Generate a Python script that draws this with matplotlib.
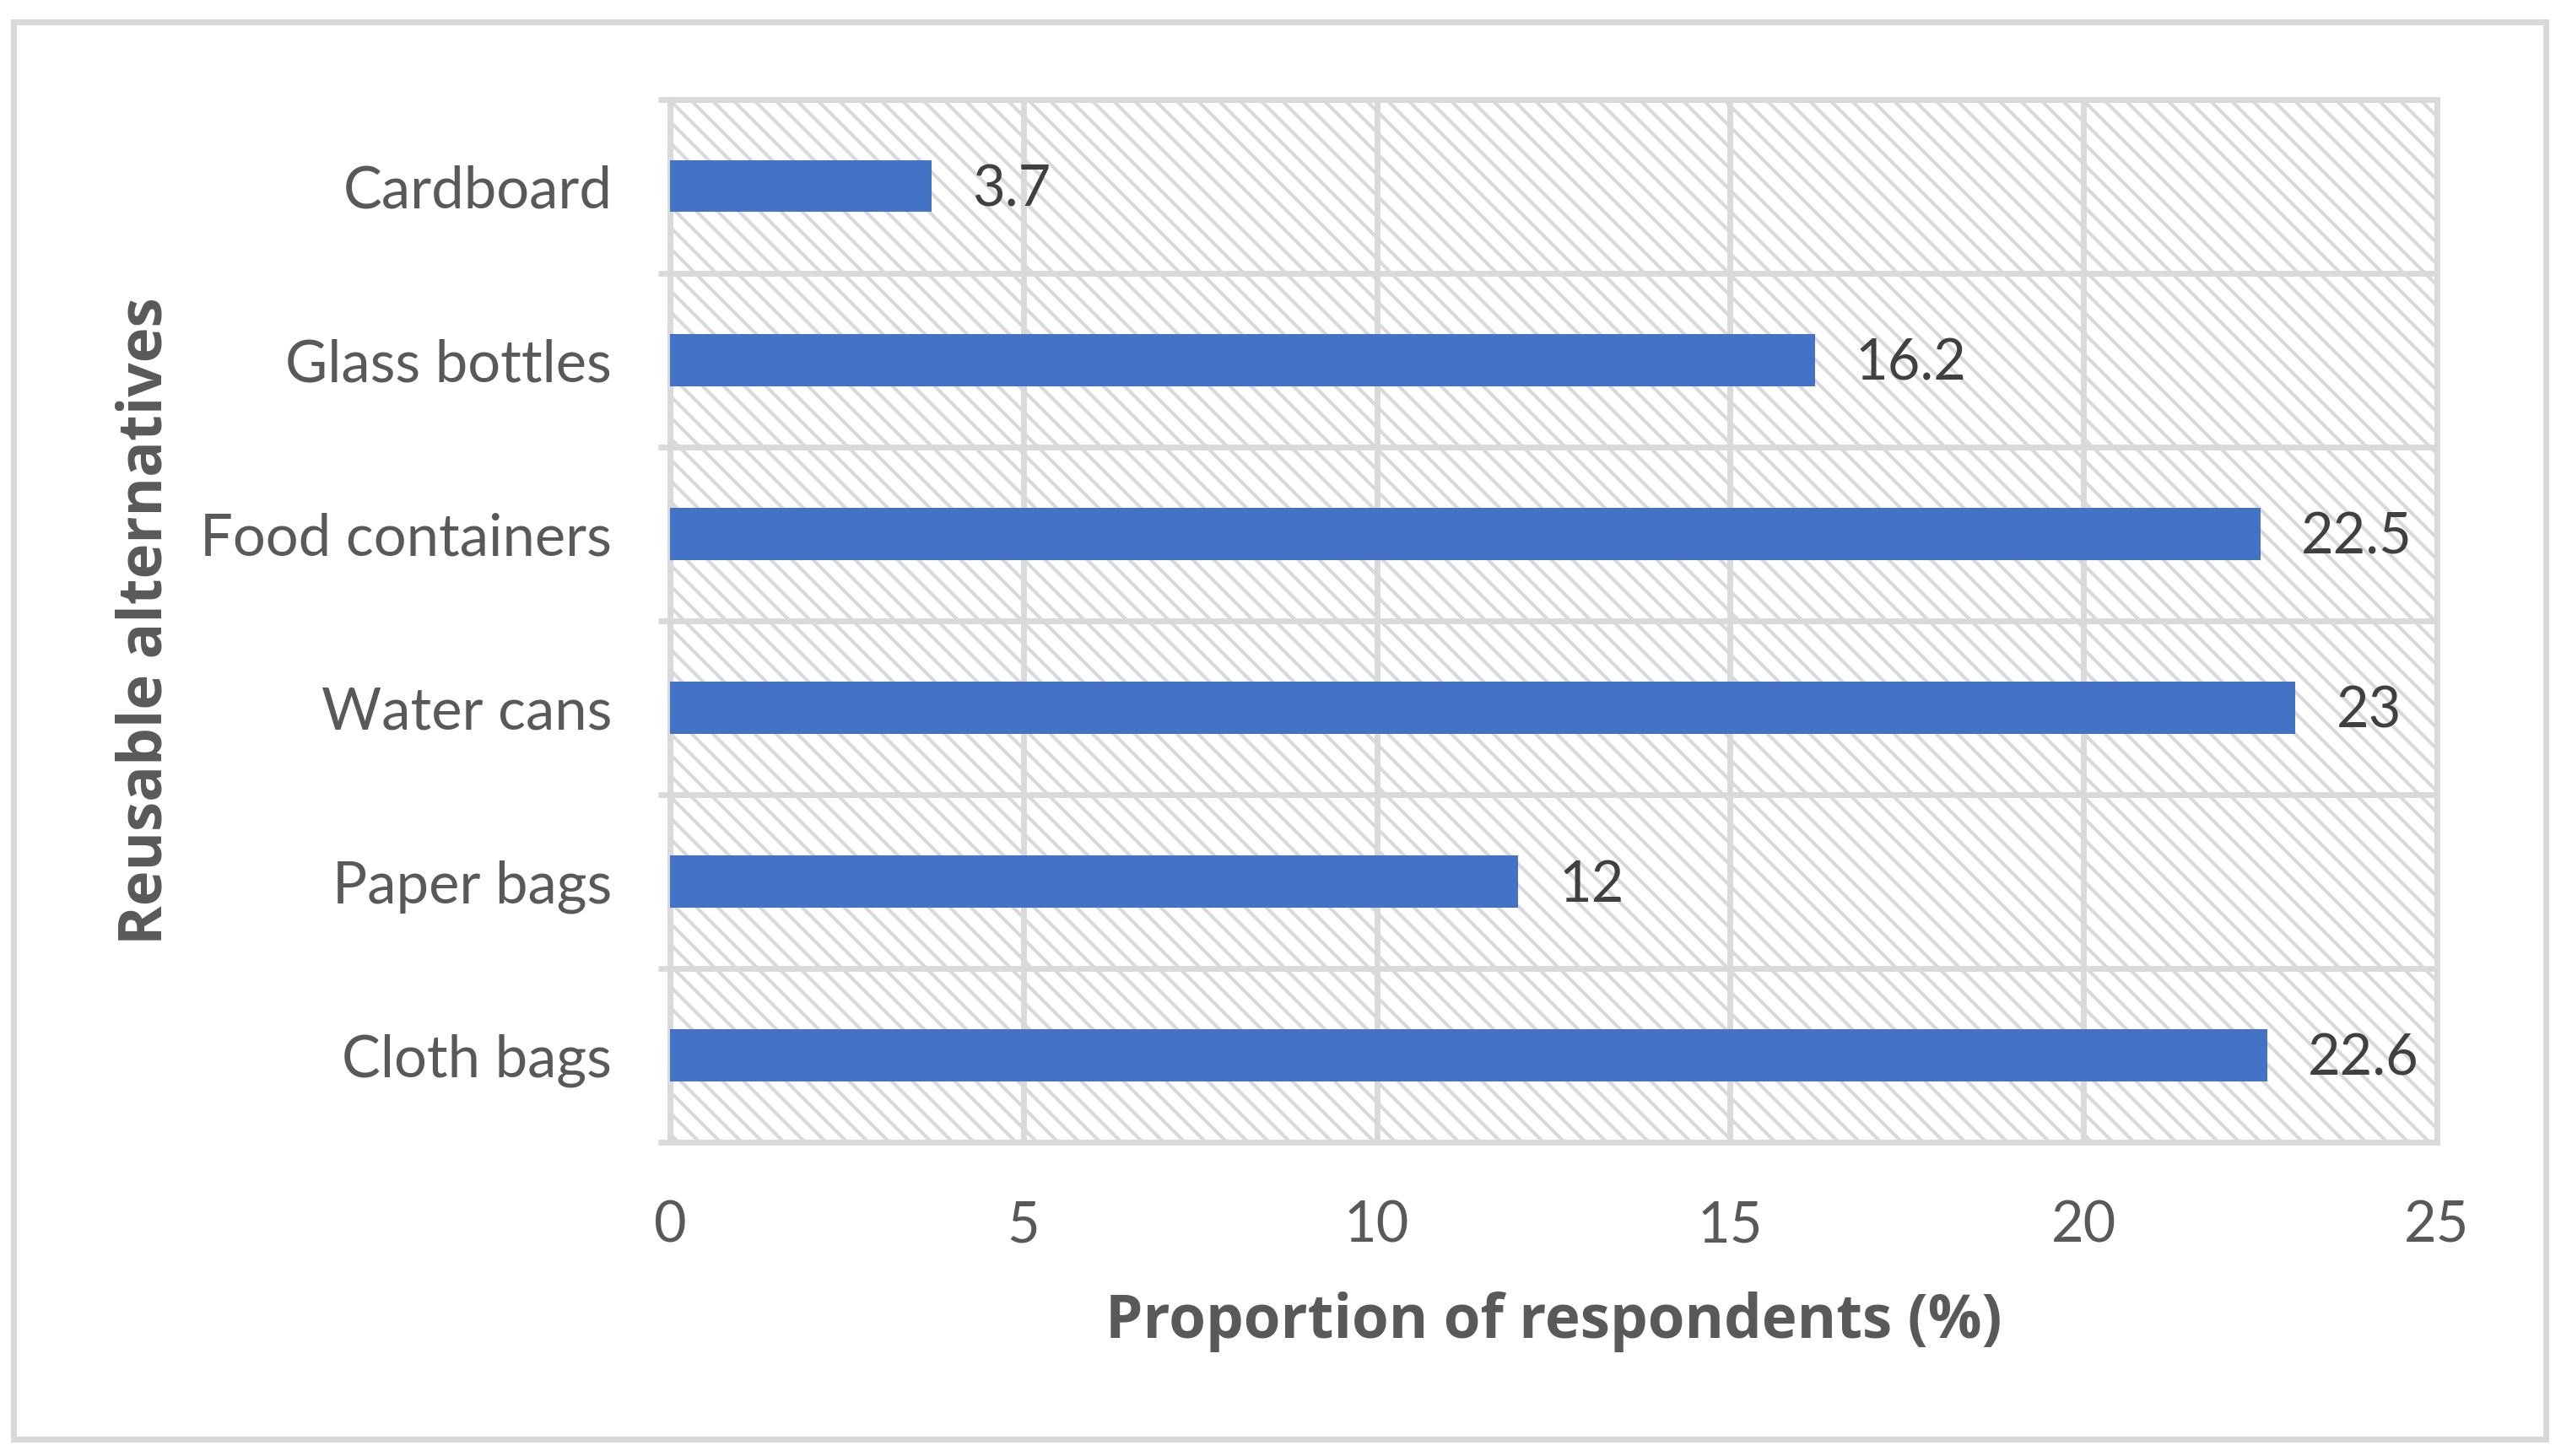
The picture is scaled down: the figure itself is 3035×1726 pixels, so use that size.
import numpy as np
import matplotlib
matplotlib.use("Agg")
from matplotlib import pyplot as plt
from matplotlib.patches import Rectangle

# data, bottom to top as drawn
categories = ["Cloth bags", "Paper bags", "Water cans", "Food containers",
              "Glass bottles", "Cardboard"]
values = [22.6, 12, 23, 22.5, 16.2, 3.7]
x_ticks = [0, 5, 10, 15, 20, 25]

GRID = "#D9D9D9"
TEXT = "#595959"
BAR = "#4472C4"
DPI = 150

plt.rcParams["font.family"] = ["Lato", "DejaVu Sans"]
plt.rcParams["hatch.linewidth"] = 2.0

fig = plt.figure(figsize=(3036 / DPI, 1726 / DPI), dpi=DPI)
# outer chart border
fig.patches.append(Rectangle((16.5 / 3036, 1 - 1706 / 1726), 3001 / 3036, 1680 / 1726,
                             transform=fig.transFigure, fill=False,
                             edgecolor=GRID, linewidth=3.4))

ax = fig.add_axes([794 / 3036, 1 - 1354 / 1726, (2888 - 794) / 3036, (1354 - 117.5) / 1726])
ax.patch.set_facecolor("white")
ax.patch.set_hatch("\\\\")
ax.patch.set_edgecolor(GRID)

y = np.arange(len(categories))
ax.barh(y, values, height=0.3, color=BAR, zorder=3)

# value labels: digits centred on the bar
for yi, v in zip(y, values):
    ax.annotate(f"{v:g}", (v, yi), xytext=(23, -11.5), textcoords="offset points",
                ha="left", va="baseline", fontsize=32, color="#404040", zorder=4)

ax.set_xlim(0, 25)
ax.set_ylim(-0.5, len(categories) - 0.5)
ax.set_xticks(x_ticks)
ax.set_yticks(y)
ax.set_yticklabels(categories)
ax.set_yticks(np.arange(-0.5, len(categories)), minor=True)

ax.grid(axis="x", which="major", color=GRID, linewidth=3.3, zorder=1)
ax.grid(axis="y", which="minor", color=GRID, linewidth=3.3, zorder=1)
ax.set_axisbelow(True)

for s in ax.spines.values():
    s.set_color(GRID)
    s.set_linewidth(3.3)

ax.tick_params(axis="x", length=0, labelsize=32, labelcolor=TEXT, pad=33)
ax.tick_params(axis="y", which="major", length=0, labelsize=33, labelcolor=TEXT, pad=33)
ax.tick_params(axis="y", which="minor", length=6.5, width=3.3, color=GRID, direction="out")

ax.set_xlabel("Proportion of respondents (%)", fontsize=34, fontweight="bold",
              family=["Open Sans", "DejaVu Sans"], color=TEXT, labelpad=22)
ax.set_ylabel("Reusable alternatives", fontsize=34, fontweight="bold",
              family=["Open Sans", "DejaVu Sans"], color=TEXT, labelpad=14)

fig.savefig("out.png", dpi=DPI)
